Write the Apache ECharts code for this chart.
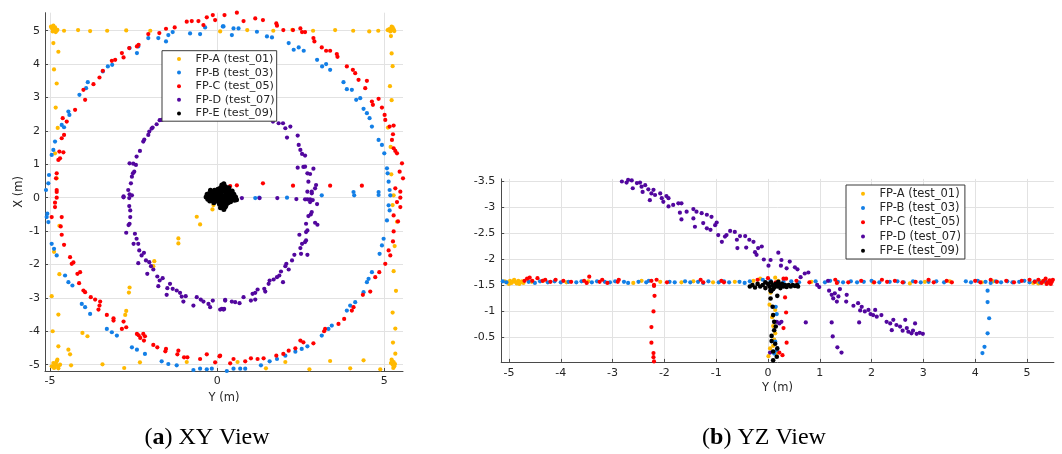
<!DOCTYPE html>
<html><head><meta charset="utf-8">
<script src="https://cdn.jsdelivr.net/npm/echarts@6/dist/echarts.min.js"></script>
<style>html,body{margin:0;padding:0;background:#fff}#c{width:1062px;height:454px}</style>
</head><body><div id="c"></div>
<script>
const seriesNames = ['FP-A (test_01)','FP-B (test_03)','FP-C (test_05)','FP-D (test_07)','FP-E (test_09)'];
const seriesColors = ['#ffb900','#137fe6','#ff0000','#52079e','#000000'];
const xyTicksH = [-5,0,5];
const xyTicksV = [-5,-4,-3,-2,-1,0,1,2,3,4,5];
const yzTicksH = [-5,-4,-3,-2,-1,0,1,2,3,4,5];
const yzTicksV = [-3.5,-3,-2.5,-2,-1.5,-1,-0.5];

// ---------- XY view [Y, X] ----------
const xyA = [
[-4.95,5.08],[-4.9,5.02],[-4.85,5.1],[-4.92,4.98],[-4.88,5.05],[-4.8,5.0],[-4.97,5.12],[-4.83,4.96],[-4.9,5.15],[-4.78,5.03],
[-4.58,5.0],[-4.16,5.02],[-3.8,4.99],[-3.29,5.0],[-2.72,5.01],[-2.0,5.0],[0.09,4.98],[0.9,5.02],[1.68,5.0],[2.25,5.03],[2.87,5.0],[3.53,5.02],[4.07,5.0],[4.55,4.98],[4.82,5.0],
[5.15,5.05],[5.2,5.0],[5.25,5.1],[5.18,4.98],[5.28,5.04],[5.22,5.12],[5.1,5.02],[5.3,4.99],[5.24,5.06],
[5.2,4.84],[5.22,4.32],[5.25,3.94],[5.17,3.34],[5.22,2.92],[5.11,2.1],[5.19,1.52],[5.21,0.7],[5.28,0.07],[5.25,-0.22],[5.38,-0.72],[5.31,-1.45],[5.28,-2.2],[5.35,-2.79],[5.25,-3.44],[5.33,-3.92],[5.26,-4.34],[5.33,-4.67],
[5.22,-4.85],[5.28,-4.92],[5.25,-5.0],[5.3,-5.05],[5.2,-4.95],[5.27,-5.1],[5.32,-4.98],[5.24,-4.9],
[4.88,-5.14],[4.38,-4.87],[3.98,-5.11],[3.38,-4.89],[2.76,-5.14],[2.04,-4.92],[1.46,-5.11],[0.61,-4.92],[-0.91,-4.92],[-2.31,-4.93],[-2.78,-5.1],[-3.43,-4.99],[-4.37,-5.02],[-4.75,-5.11],
[-4.9,-4.95],[-4.85,-5.02],[-4.8,-4.9],[-4.75,-5.05],[-4.88,-5.1],[-4.82,-4.98],[-4.7,-5.0],[-4.95,-5.05],[-4.78,-4.85],[-4.86,-5.08],
[-4.9,4.63],[-4.75,4.37],[-4.88,3.84],[-4.8,3.42],[-4.83,2.7],[-4.77,2.09],[-4.85,1.33],[-4.8,0.58],[-4.72,-0.84],[-4.88,-1.62],[-4.72,-2.29],[-4.95,-2.95],[-4.75,-3.5],[-4.92,-4.0],[-4.75,-4.45],[-4.45,-4.55],[-4.4,-4.69],
[-4.03,-4.05],[-3.88,-4.15],[-2.62,-2.69],[-2.64,-2.84],[-2.72,-3.39],[-2.75,-3.51],[-1.88,-1.9],[-1.91,-2.05],[-1.16,-1.22],[-1.16,-1.37],[-0.61,-0.57],[-0.51,-0.8],[-0.11,-0.22],[-0.14,-0.35],[0.05,-0.05]
];
const xyB = [
[-5.12,0.23],[-5.05,0.43],[-5.03,0.68],[-4.95,1.28],[-4.9,1.43],[-4.85,1.68],[-4.65,2.18],[-4.58,2.11],[-4.45,2.58],[-4.42,2.48],[-4.12,3.08],[-3.92,3.28],[-3.87,3.46],[-3.42,3.78],[-3.27,3.93],[-3.14,3.98],[-2.62,4.48],[-2.4,4.33],[-2.36,4.53],[-2.06,4.78],[-1.76,4.78],[-1.53,4.68],[-1.46,4.87],[-1.33,4.96],[-0.81,4.92],[-0.51,4.9],[-0.36,5.1],[0.17,5.13],[0.19,5.13],[0.49,5.07],[0.64,5.07],[0.44,4.87],[1.19,4.97],[1.49,4.83],[1.64,4.8],[2.14,4.63],[2.44,4.5],[2.29,4.43],[2.59,4.4],[2.99,4.13],[3.14,3.93],[3.26,4.0],[3.38,3.83],[3.78,3.46],[3.88,3.25],[4.03,3.23],[4.16,2.93],[4.28,2.98],[4.38,2.66],[4.48,2.53],[4.56,2.38],[4.63,2.13],[4.83,1.73],[4.93,1.58],[5.0,1.33],[5.08,0.88],[5.1,0.73],[5.13,0.48],[5.16,0.23],
[0.39,0.02],[1.14,-0.01],[1.26,0.0],[2.09,0.0],[3.13,0.07],[4.1,0.07],[4.08,0.17],[4.83,0.08],[4.83,0.17],[5.18,0.07],
[5.13,-0.23],[5.16,-0.38],[5.08,-0.68],[4.98,-1.23],[4.93,-1.43],[4.86,-1.68],[4.63,-2.23],[4.53,-2.43],[4.48,-2.53],[4.38,-2.83],[4.13,-3.13],[3.98,-3.23],[3.88,-3.38],[3.43,-3.83],[3.33,-3.93],[3.13,-4.13],[2.7,-4.45],[2.53,-4.53],[2.34,-4.61],[2.04,-4.73],[1.79,-4.83],[1.57,-4.9],[1.31,-5.02],[0.84,-5.12],[0.69,-5.12],[0.49,-5.12],[0.29,-5.19],
[-5.1,-0.58],[-5.05,-0.73],[-5.08,-0.48],[-4.95,-1.38],[-4.88,-1.53],[-4.8,-1.73],[-4.55,-2.33],[-4.45,-2.53],[-4.33,-2.63],[-4.05,-3.18],[-3.95,-3.28],[-3.8,-3.48],[-3.3,-3.93],[-3.15,-4.03],[-3.0,-4.13],[-2.55,-4.48],[-2.4,-4.55],[-2.16,-4.68],[-1.66,-4.9],[-1.46,-4.98],[-1.21,-5.02],[-0.71,-5.16],[-0.51,-5.12],[-0.31,-5.14],[-0.16,-5.12]
];
const xyC = [
[-4.8,0.23],[-4.82,0.58],[-4.8,0.73],[-4.75,1.13],[-4.7,1.18],[-4.72,1.38],[-4.6,1.36],[-4.65,1.78],[-4.58,1.88],[-4.62,2.38],[-4.5,2.28],[-4.25,2.63],[-3.95,2.93],[-4.0,3.23],[-3.7,3.4],[-3.52,3.6],[-3.42,3.8],[-3.15,4.1],[-3.05,4.13],[-2.85,4.33],[-2.8,4.2],[-2.63,4.48],[-2.4,4.53],[-2.35,4.58],[-2.06,4.9],[-1.73,4.93],[-1.53,5.06],[-1.27,5.1],[-0.91,5.27],[-0.76,5.29],[-0.56,5.29],[-0.41,5.17],[-0.13,5.47],[-0.06,5.32],[-0.31,5.4],
[0.22,5.47],[0.59,5.54],[0.79,5.29],[1.14,5.37],[1.37,5.32],[1.77,5.22],[1.79,5.15],[1.98,5.02],[2.27,5.02],[2.49,5.07],[2.54,4.96],[2.63,4.96],[2.88,4.78],[2.91,4.68],[3.13,4.5],[3.26,4.4],[3.38,4.4],[3.58,4.3],[3.6,4.22],[3.88,3.93],[4.06,3.83],[4.13,3.73],[4.23,3.53],[4.43,3.28],[4.48,3.5],[4.63,2.88],[4.66,2.78],[4.83,2.96],[4.93,2.7],[5.01,2.48],[5.03,2.33],[5.16,2.13],[5.28,2.16],[5.26,1.9],[5.23,1.73],[5.28,1.48],[5.33,1.4],[5.38,1.33],[5.53,1.03],[5.46,0.78],[5.56,0.58],[5.33,0.28],[5.48,0.18],
[0.39,0.35],[0.59,0.37],[1.37,0.43],[2.27,0.36],[3.38,0.36],[4.33,0.36],
[5.48,0.0],[5.38,-0.13],[5.48,-0.28],[5.28,-0.53],[5.41,-0.71],[5.28,-1.01],[5.26,-1.31],[5.13,-1.58],[5.18,-1.73],[5.03,-1.98],[4.85,-2.23],[4.73,-2.38],[4.58,-2.81],[4.36,-2.91],[4.08,-3.28],[4.03,-3.38],[3.8,-3.63],[3.63,-3.78],[3.23,-3.93],[3.2,-4.0],[2.88,-4.36],[2.58,-4.33],[2.49,-4.28],[2.34,-4.51],[2.14,-4.58],[1.98,-4.68],[1.77,-4.73],[1.39,-4.81],[1.21,-4.83],[1.01,-4.81],[0.84,-4.9],[0.49,-4.83],[0.39,-4.96],[0.09,-4.73],
[-4.8,0.17],[-4.8,0.0],[-4.85,-0.15],[-4.85,-0.28],[-4.95,-0.58],[-4.65,-0.58],[-4.68,-0.86],[-4.65,-1.11],[-4.58,-1.41],[-4.4,-1.78],[-4.35,-1.98],[-4.3,-1.94],[-4.18,-2.28],[-4.1,-2.23],[-4.13,-2.56],[-4.0,-2.78],[-3.95,-2.83],[-3.78,-2.98],[-3.65,-3.05],[-3.5,-3.11],[-3.52,-3.23],[-3.55,-3.35],[-3.3,-3.51],[-3.1,-3.61],[-3.1,-3.68],[-2.8,-3.71],[-2.85,-3.93],[-2.72,-3.88],[-2.4,-4.08],[-2.35,-4.12],[-2.21,-4.08],[-2.16,-4.15],[-2.19,-4.28],[-2.3,-4.2],[-1.91,-4.41],[-1.79,-4.48],[-1.53,-4.53],[-1.55,-4.6],[-1.19,-4.69],[-1.16,-4.58],[-0.99,-4.78],[-0.89,-4.78],[-0.51,-4.83],[-0.31,-4.69],[-0.06,-4.93],[0.07,-4.75]
];
const xyD = [
[-2.8,0.04],[-2.66,0.23],[-2.62,0.1],[-2.58,0.43],[-2.55,0.63],[-2.52,0.73],[-2.48,0.78],[-2.62,1.03],[-2.43,0.98],[-2.51,1.02],[-2.41,1.23],[-2.31,1.4],[-2.21,1.68],[-2.18,1.74],[-2.06,1.88],[-2.03,1.98],[-1.96,2.07],[-1.93,2.1],[-1.81,2.2],[-1.72,2.32],[-1.66,2.33],
[-1.4,2.6],[-1.0,2.8],[-0.5,2.9],[0.0,2.95],[0.5,2.9],[1.0,2.75],[1.4,2.5],
[1.67,2.28],[1.84,2.23],[1.97,2.23],[2.04,2.08],[2.19,2.13],[2.09,1.8],[2.41,1.86],[2.44,1.58],[2.49,1.43],[2.54,1.31],[2.63,1.26],[2.41,0.9],[2.58,0.92],[2.63,0.93],[2.88,0.87],[2.7,0.73],[2.78,0.71],[2.73,0.48],[2.96,0.38],[2.93,0.28],[2.7,0.18],[2.83,0.18],[2.83,0.13],
[0.74,-0.01],[1.27,-0.01],[1.8,-0.01],[2.37,-0.04],[2.63,-0.05],[2.7,-0.05],[2.78,-0.05],[2.86,-0.07],[2.99,-0.19],[2.78,-0.13],
[2.83,-0.43],[2.8,-0.5],[2.73,-0.55],[2.66,-0.78],[2.93,-0.75],[3.0,-0.81],[2.66,-1.03],[2.7,-0.98],[2.46,-1.11],[2.63,-1.33],[2.66,-1.28],[2.49,-1.51],[2.54,-1.38],[2.7,-1.71],[2.51,-1.68],[2.31,-1.71],[2.24,-1.88],[2.07,-1.98],[2.04,-2.05],[2.14,-2.15],[1.91,-2.21],[1.86,-2.33],[1.79,-2.38],[1.97,-2.53],[1.69,-2.45],[1.57,-2.48],[1.54,-2.58],[1.41,-2.73],[1.44,-2.81],[1.21,-2.75],[1.14,-2.85],[1.06,-2.88],[0.79,-2.98],[1.14,-3.05],[1.01,-3.08],[0.67,-3.16],[0.54,-3.13],[0.44,-3.11],[0.24,-3.08],[0.19,-3.35],[0.09,-3.35],
[-2.8,0.01],[-2.63,-0.01],[-2.55,0.07],[-2.63,-0.25],[-2.6,-0.38],[-2.6,-0.58],[-2.62,-0.78],[-2.65,-0.82],[-2.72,-1.05],[-2.46,-1.08],[-2.41,-1.23],[-2.5,-1.38],[-2.36,-1.38],[-2.33,-1.58],[-2.19,-1.65],[-2.26,-1.73],[-2.36,-1.96],[-2.13,-1.88],[-2.03,-1.93],[-1.98,-2.05],[-1.91,-2.15],[-2.09,-2.28],[-1.79,-2.36],[-1.72,-2.48],[-1.63,-2.41],[-1.76,-2.65],[-1.41,-2.58],[-1.49,-2.71],[-1.33,-2.73],[-1.21,-2.78],[-1.51,-2.91],[-1.11,-2.85],[-1.06,-2.96],[-0.94,-2.95],[-1.01,-3.11],[-0.71,-3.23],[-0.61,-2.98],[-0.49,-3.05],[-0.41,-3.11],[-0.26,-3.18],[-0.21,-3.28],[-0.13,-3.08],[0.14,-3.33],[0.24,-3.06],[0.21,-3.33]
];
const xyE = [
[-0.33,0.02],[-0.3,0.1],[-0.28,-0.05],[-0.25,0.12],[-0.22,-0.1],[-0.2,0.05],[-0.18,0.18],[-0.15,-0.02],[-0.12,0.1],[-0.1,-0.15],[-0.08,0.22],[-0.05,0.0],[-0.03,0.15],[0.0,-0.08],[0.02,0.25],[0.05,0.08],[0.07,-0.2],[0.1,0.3],[0.12,0.0],[0.14,0.38],[0.16,-0.1],[0.18,0.2],[0.2,0.42],[0.22,0.05],[0.24,-0.28],[0.25,0.33],[0.27,0.12],[0.3,-0.05],[0.32,0.25],[0.35,0.0],[0.38,0.15],[0.4,-0.12],[0.42,0.08],[0.45,0.2],[0.48,-0.03],[0.5,0.1],[0.55,0.02],[0.58,-0.06],[0.2,-0.35],[0.15,-0.22],[0.28,-0.18],[-0.2,0.22],[0.08,0.18],[0.35,0.3],[0.0,0.1],[0.1,-0.3],[0.22,-0.12],
[-0.28,0.06],[-0.24,-0.02],[-0.16,0.08],[-0.11,0.02],[-0.06,0.09],[-0.02,-0.03],[0.03,0.04],[0.07,0.12],[0.09,-0.06],[0.13,0.16],[0.17,0.06],[0.19,-0.04],[0.23,0.24],[0.26,-0.08],[0.29,0.05],[0.31,0.16],[0.33,-0.15],[0.37,0.08],[0.41,0.02],[0.44,-0.06],[0.47,0.12],[0.52,-0.08],[0.16,0.3],[0.21,0.34],[0.12,-0.16],[0.26,-0.24],[0.18,-0.26],[-0.13,-0.08],[0.04,-0.13],[0.36,0.22]
];

// ---------- YZ view [Y, Z] ----------
const yzA = [
[-5.08,-1.57],[-5.03,-1.55],[-4.98,-1.58],[-4.95,-1.54],[-4.92,-1.57],[-4.88,-1.56],[-4.85,-1.53],[-4.82,-1.58],[-4.78,-1.55],[-4.75,-1.57],[-4.72,-1.54],[-5.0,-1.52],[-4.9,-1.6],[-4.8,-1.52],
[-4.56,-1.56],[-4.34,-1.58],[-3.89,-1.55],[-3.47,-1.57],[-2.6,-1.54],[-2.44,-1.58],[-2.08,-1.56],[-1.67,-1.55],[-1.44,-1.57],[-1.06,-1.55],[-0.64,-1.56],[-0.28,-1.58],[-0.15,-1.62],[0.14,-1.64],[0.2,-1.58],[0.84,-1.56],[2.03,-1.55],[2.74,-1.53],[3.03,-1.56],[3.51,-1.57],[4.13,-1.55],[4.35,-1.57],[5.12,-1.54],[5.18,-1.56],[5.22,-1.53],[5.26,-1.57],[5.3,-1.55],[5.35,-1.56],[5.4,-1.54],
[0.03,-1.12],[0.14,-1.02],[0.1,-0.71],[0.14,-0.57],[0.04,-0.28],[0.01,-0.13],[0.17,-0.19],[0.1,-0.33],[0.12,-0.45],[0.08,-0.88],[0.05,-1.35]
];
const yzB = [
[-5.12,-1.57],[-5.05,-1.55],[-4.62,-1.56],[-4.5,-1.54],[-4.4,-1.57],[-4.25,-1.55],[-4.12,-1.57],[-4.0,-1.55],[-3.85,-1.56],[-3.7,-1.55],[-3.6,-1.57],[-3.4,-1.55],[-3.3,-1.57],[-3.15,-1.56],[-3.05,-1.55],[-2.95,-1.57],[-2.78,-1.56],[-2.7,-1.54],[-2.5,-1.56],[-2.35,-1.55],[-2.3,-1.58],[-1.9,-1.56],[-1.8,-1.55],[-1.6,-1.57],[-1.5,-1.55],[-1.35,-1.56],[-1.25,-1.54],[-1.15,-1.57],[-0.95,-1.55],[-0.85,-1.57],[-0.75,-1.55],[-0.55,-1.56],[-0.45,-1.54],[-0.35,-1.57],[-0.1,-1.6],[0.05,-1.58],[0.3,-1.56],[0.45,-1.57],[0.6,-1.55],[0.92,-1.57],[1.1,-1.55],[1.2,-1.58],[1.35,-1.56],[1.45,-1.55],[1.6,-1.57],[1.72,-1.55],[1.85,-1.56],[2.0,-1.58],[2.15,-1.55],[2.35,-1.56],[2.5,-1.57],[2.62,-1.55],[2.8,-1.57],[2.95,-1.55],[3.1,-1.56],[3.25,-1.57],[3.4,-1.55],[3.82,-1.57],[3.92,-1.55],[4.05,-1.58],[4.2,-1.56],[4.3,-1.54],[4.4,-1.57],[4.5,-1.55],[4.62,-1.57],[4.72,-1.55],[4.85,-1.56],[4.95,-1.58],[5.05,-1.55],[5.15,-1.57],[5.25,-1.55],[5.35,-1.57],[5.45,-1.56],
[4.24,-1.39],[4.24,-1.17],[4.27,-0.86],[4.24,-0.57],[4.18,-0.31],[4.14,-0.19],
[0.15,-1.08],[0.17,-0.94],[0.14,-0.41],[0.17,-0.24],[0.12,-0.18]
];
const yzC = [
[-4.7,-1.58],[-4.65,-1.62],[-4.6,-1.64],[-4.55,-1.58],[-4.45,-1.63],[-4.35,-1.58],[-4.3,-1.6],[-4.2,-1.56],[-4.1,-1.6],[-3.95,-1.58],[-3.8,-1.56],[-3.55,-1.58],[-3.45,-1.66],[-3.5,-1.54],[-3.25,-1.56],[-3.2,-1.6],[-3.1,-1.54],[-2.9,-1.56],[-2.88,-1.6],[-2.2,-1.5],[-2.25,-1.58],[-2.15,-1.6],[-1.95,-1.55],[-1.3,-1.6],[-1.25,-1.55],[-0.9,-1.58],[-0.85,-1.55],[-0.2,-1.6],[0.0,-1.63],[0.15,-1.55],[0.35,-1.62],[0.55,-1.58],[0.8,-1.55],[1.3,-1.6],[1.33,-1.54],[1.55,-1.55],[1.8,-1.58],[2.05,-1.55],[2.2,-1.6],[2.3,-1.56],[2.45,-1.58],[2.6,-1.55],[2.85,-1.56],[3.1,-1.6],[3.2,-1.55],[3.45,-1.58],[3.55,-1.55],[4.0,-1.58],[4.1,-1.55],[4.3,-1.6],[4.42,-1.56],[4.6,-1.58],[4.75,-1.55],[4.9,-1.58],[5.05,-1.6],[5.15,-1.56],[5.22,-1.6],[5.28,-1.54],[5.32,-1.58],[5.36,-1.62],[5.4,-1.55],[5.44,-1.59],[5.48,-1.56],[5.5,-1.6],[5.38,-1.52],[5.46,-1.52],
[-2.2,-1.48],[-2.19,-1.29],[-2.21,-0.99],[-2.25,-0.69],[-2.25,-0.39],[-2.21,-0.19],[-2.21,-0.11],[-2.2,-0.03],
[0.33,-1.26],[0.35,-0.97],[0.3,-0.67],[0.36,-0.39],[0.22,-0.2],[0.28,-0.15],[0.3,-1.62],[0.28,-1.5]
];
const yzD = [
[-2.82,-3.49],[-2.73,-3.47],[-2.7,-3.52],[-2.66,-3.55],[-2.63,-3.51],[-2.53,-3.46],[-2.61,-3.36],[-2.47,-3.47],[-2.44,-3.39],[-2.37,-3.42],[-2.42,-3.29],[-2.31,-3.34],[-2.25,-3.26],[-2.21,-3.33],[-2.28,-3.13],[-2.18,-3.23],[-2.08,-3.26],[-2.05,-3.17],[-2.02,-3.1],[-1.96,-3.21],[-1.92,-3.17],[-1.92,-3.01],[-1.83,-3.04],[-1.73,-3.07],[-1.67,-3.07],[-1.7,-2.89],[-1.67,-2.76],[-1.57,-2.91],[-1.44,-2.96],[-1.38,-2.91],[-1.44,-2.78],[-1.41,-2.62],[-1.28,-2.88],[-1.25,-2.69],[-1.18,-2.85],[-1.18,-2.59],[-1.09,-2.81],[-1.11,-2.56],[-1.02,-2.65],[-0.99,-2.7],[-0.96,-2.46],[-0.89,-2.33],[-0.83,-2.43],[-0.8,-2.46],[-0.73,-2.54],[-0.64,-2.52],[-0.6,-2.37],[-0.59,-2.21],[-0.54,-2.44],[-0.44,-2.44],[-0.42,-2.22],[-0.36,-2.37],[-0.28,-2.33],[-0.25,-2.13],[-0.22,-2.08],[-0.19,-2.21],[-0.12,-2.24],[-0.08,-1.99],[0.01,-1.87],[0.05,-1.98],[0.2,-2.12],[0.26,-1.98],[0.25,-1.87],[0.36,-1.82],[0.42,-1.95],[0.52,-1.84],[0.57,-1.8],[0.63,-1.65],[0.71,-1.72],[0.78,-1.74],
[0.95,-1.5],[0.99,-1.46],[1.16,-1.58],[1.18,-1.39],[1.23,-1.31],[1.29,-1.34],[1.26,-1.24],[1.36,-1.28],[1.39,-1.42],[1.33,-1.18],[1.52,-1.31],[1.51,-1.18],[1.65,-1.1],[1.74,-1.15],[1.81,-1.08],[1.78,-1.01],[1.87,-0.99],[1.94,-1.02],[1.98,-0.94],[2.03,-0.92],[2.1,-0.89],[2.07,-1.02],[2.19,-0.92],[2.29,-0.79],[2.36,-0.76],[2.42,-0.83],[2.48,-0.73],[2.39,-0.63],[2.55,-0.7],[2.65,-0.83],[2.68,-0.67],[2.71,-0.6],[2.77,-0.57],[2.84,-0.76],[2.87,-0.56],[2.93,-0.58],[2.99,-0.56],[2.6,-0.62],[2.8,-0.62],
[0.73,-0.78],[1.23,-0.78],[1.25,-0.51],[1.34,-0.3],[1.42,-0.2],[1.76,-0.78],[0.17,-0.79],[0.22,-0.76],[0.26,-0.79],[0.04,-0.2]
];
const yzE = [
[-0.35,-1.47],[-0.3,-1.5],[-0.25,-1.45],[-0.2,-1.52],[-0.15,-1.47],[-0.1,-1.5],[-0.05,-1.44],[0.0,-1.52],[0.03,-1.47],[0.06,-1.55],[0.09,-1.5],[0.12,-1.45],[0.15,-1.52],[0.18,-1.47],[0.21,-1.5],[0.24,-1.44],[0.27,-1.52],[0.3,-1.47],[0.33,-1.5],[0.36,-1.46],[0.4,-1.5],[0.44,-1.47],[0.48,-1.5],[0.52,-1.48],[0.56,-1.5],[0.58,-1.47],[0.1,-1.42],[0.05,-1.4],[-0.05,-1.55],[0.2,-1.56],
[0.05,-1.24],[0.18,-1.29],[0.09,-1.08],[0.1,-0.92],[0.12,-0.79],[0.12,-0.63],[0.07,-0.52],[0.07,-0.42],[0.14,-0.37],[0.18,-0.28],[0.1,-0.22],[0.17,-0.12],[0.06,-1.38],[0.15,-0.7],[0.1,-0.05]
];

const xyData = [xyA, xyB, xyC, xyD, xyE];
const yzData = [yzA, yzB, yzC, yzD, yzE];

const FONT = 'DejaVu Sans';
const axisCol = '#4a4a4a';
const gridCol = '#e2e2e2';
const labelCol = '#262626';

function axisCommon(ticks, extra) {
  return Object.assign({
    type: 'value',
    axisLine: { show: true, onZero: false, lineStyle: { color: axisCol, width: 1 } },
    axisTick: { show: true, inside: true, length: 3, customValues: ticks, lineStyle: { color: axisCol } },
    axisLabel: { customValues: ticks, color: labelCol, fontFamily: FONT, fontSize: 11 },
    splitLine: { show: true, lineStyle: { color: gridCol, width: 1 } },
    nameTextStyle: { color: labelCol, fontFamily: FONT, fontSize: 11.5 },
    nameLocation: 'middle'
  }, extra);
}

const series = [];
seriesNames.forEach((n, i) => {
  series.push({ name: n, type: 'scatter', xAxisIndex: 0, yAxisIndex: 0, data: xyData[i],
    symbol: 'circle', symbolSize: i === 4 ? 5 : 4.2, itemStyle: { color: seriesColors[i], opacity: 1 }, silent: true });
});
seriesNames.forEach((n, i) => {
  series.push({ name: n, type: 'scatter', xAxisIndex: 1, yAxisIndex: 1, data: yzData[i],
    symbol: 'circle', symbolSize: i === 4 ? 4.6 : 4.2, itemStyle: { color: seriesColors[i], opacity: 1 }, silent: true });
});

function legendCfg(left, top, lh, fs, padR) {
  return {
    orient: 'vertical', left: left, top: top, data: seriesNames,
    icon: 'circle', itemWidth: 23, itemHeight: 4, itemGap: 0,
    padding: [1.5, padR, 1, 15], borderColor: '#3a3a3a', borderWidth: 1, backgroundColor: '#fff',
    textStyle: { color: labelCol, fontFamily: FONT, fontSize: fs, lineHeight: lh },
    selectedMode: false
  };
}

const capRich = {
  r: { fontFamily: 'Liberation Serif', fontSize: 24, color: '#000' },
  b: { fontFamily: 'Liberation Serif', fontSize: 24, fontWeight: 'bold', color: '#000' }
};

const chart = echarts.init(document.getElementById('c'), null, { renderer: 'canvas' });
chart.setOption({
  animation: false,
  backgroundColor: '#fff',
  grid: [
    { left: 45, top: 12.7, width: 358, height: 358.3 },
    { left: 501.2, top: 178.9, width: 552.7, height: 183 }
  ],
  xAxis: [
    axisCommon(xyTicksH, { gridIndex: 0, min: -5.15, max: 5.56, name: 'Y (m)', nameGap: 20, axisLabel: { customValues: xyTicksH, color: labelCol, fontFamily: FONT, fontSize: 11, margin: 5 } }),
    axisCommon(yzTicksH, { gridIndex: 1, min: -5.15, max: 5.52, name: 'Y (m)', nameGap: 20, axisLabel: { customValues: yzTicksH, color: labelCol, fontFamily: FONT, fontSize: 11, margin: 6 } })
  ],
  yAxis: [
    axisCommon(xyTicksV, { gridIndex: 0, min: -5.19, max: 5.54, name: 'X (m)', nameGap: 18, axisLabel: { customValues: xyTicksV, color: labelCol, fontFamily: FONT, fontSize: 11, margin: 5 } }),
    axisCommon(yzTicksV, { gridIndex: 1, min: -3.54, max: -0.02, inverse: true, axisLabel: { customValues: yzTicksV, color: labelCol, fontFamily: FONT, fontSize: 11, margin: 6 } })
  ],
  legend: [ legendCfg(162, 50.7, 13.6, 11.2, 2), legendCfg(846, 185, 14.3, 11.5, 4) ],
  series: series,
  graphic: [
    { type: 'text', x: 207, y: 438, style: { text: '{r|(}{b|a}{r|) XY View}', align: 'center', verticalAlign: 'middle', rich: capRich } },
    { type: 'text', x: 764, y: 438, style: { text: '{r|(}{b|b}{r|) YZ View}', align: 'center', verticalAlign: 'middle', rich: capRich } }
  ]
});
</script></body></html>
